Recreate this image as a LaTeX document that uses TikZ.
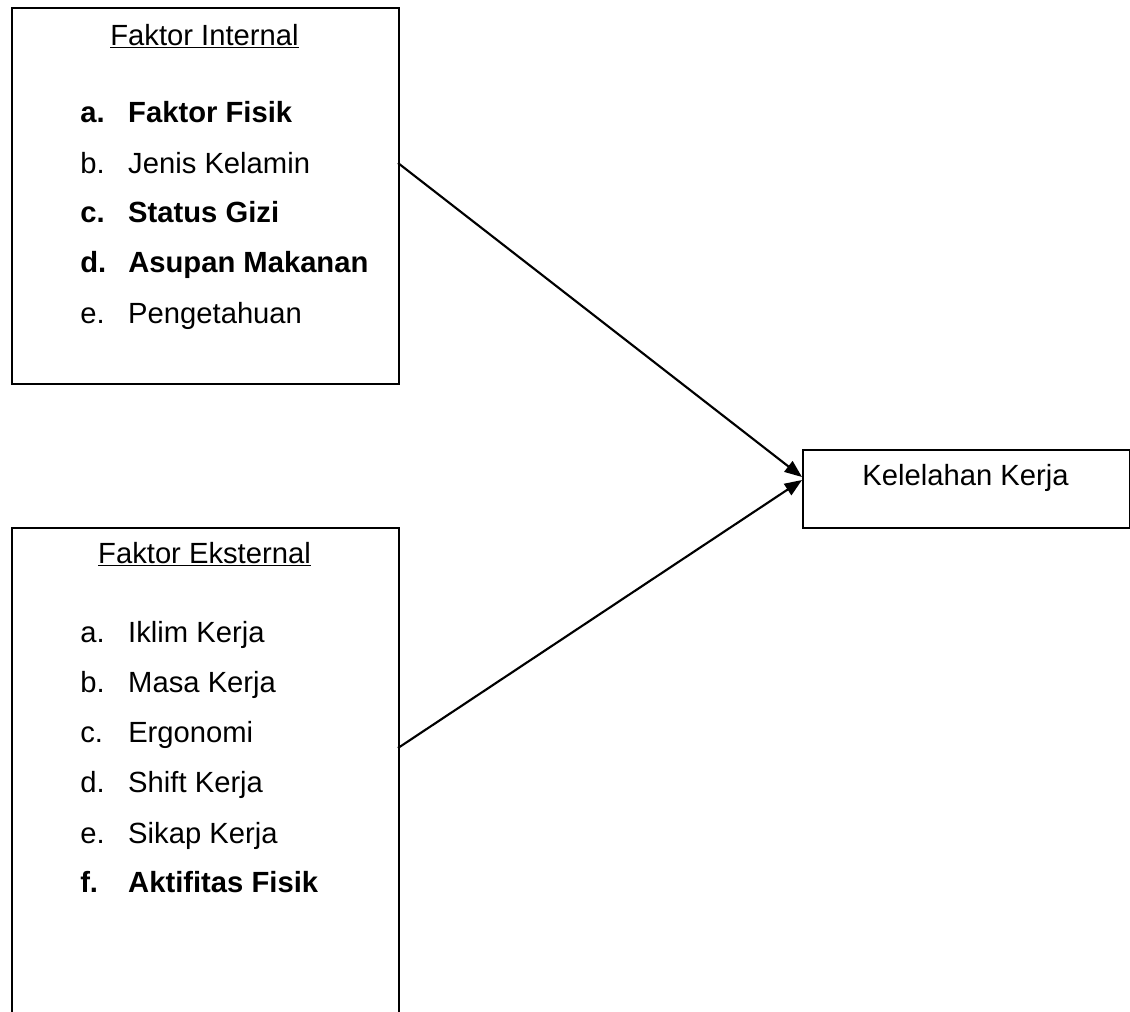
\documentclass[tikz,border=0pt]{standalone}
\usepackage{fontspec}
\setmainfont{Liberation Sans}
\usetikzlibrary{arrows.meta, positioning}

\begin{document}
\begin{tikzpicture}[x=0.75pt, y=-0.75pt,
		box/.style={draw, line width=1.4pt, rectangle, inner sep=0pt, anchor=north west},
		txt/.style={inner sep=0pt, font=\fontsize{21.9}{26}\selectfont},
		item/.style={txt, anchor=base west},
		arr/.style={-{Triangle[length=13pt, width=10pt]}, line width=1.6pt}]
	\useasboundingbox (0,0) rectangle (1130,1011);
	\clip (0,0) rectangle (1130,1011);

	% boxes
	\node[box, minimum width=290.25pt, minimum height=282pt] (intl) at (11,7) {};
	\node[box, minimum width=290.25pt, minimum height=380pt] (ekst) at (11,527) {};
	\node[box, minimum width=245.25pt, minimum height=58.5pt] (kel) at (802,449) {};

	% faktor internal
	\node[txt, anchor=base] (intl-t) at (204.5,45) {\underline{Faktor Internal}};
	\node[item] (intl-a) at (80,122) {\bfseries\makebox[36pt][l]{a.}Faktor Fisik};
	\node[item] (intl-b) at (80,173) {\makebox[36pt][l]{b.}Jenis Kelamin};
	\node[item] (intl-c) at (80,222) {\bfseries\makebox[36pt][l]{c.}Status Gizi};
	\node[item] (intl-d) at (80,272) {\bfseries\makebox[36pt][l]{d.}Asupan Makanan};
	\node[item] (intl-e) at (80,323) {\makebox[36pt][l]{e.}Pengetahuan};

	% faktor eksternal
	\node[txt, anchor=base] (ekst-t) at (204.5,563) {\underline{Faktor Eksternal}};
	\node[item] (ekst-a) at (80,642) {\makebox[36pt][l]{a.}Iklim Kerja};
	\node[item] (ekst-b) at (80,692) {\makebox[36pt][l]{b.}Masa Kerja};
	\node[item] (ekst-c) at (80,742) {\makebox[36pt][l]{c.}Ergonomi};
	\node[item] (ekst-d) at (80,792) {\makebox[36pt][l]{d.}Shift Kerja};
	\node[item] (ekst-e) at (80,843) {\makebox[36pt][l]{e.}Sikap Kerja};
	\node[item] (ekst-f) at (80,892) {\bfseries\makebox[36pt][l]{f.}Aktifitas Fisik};

	% kelelahan kerja
	\node[txt, anchor=base] (kel-t) at (965.5,485) {Kelelahan Kerja};

	% arrows
	\coordinate (intl-out) at (398,163);
	\coordinate (ekst-out) at (398,748);
	\coordinate (kel-in1) at (802,477);
	\coordinate (kel-in2) at (802,480);
	\draw[arr] (intl-out) -- (kel-in1);
	\draw[arr] (ekst-out) -- (kel-in2);
\end{tikzpicture}
\end{document}
